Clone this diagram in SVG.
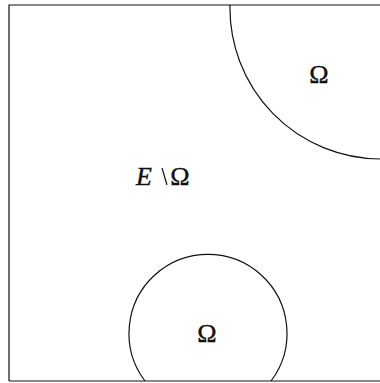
<svg xmlns="http://www.w3.org/2000/svg" width="380" height="383" viewBox="0 0 380 383">
<style>
.ln{fill:none;stroke:#111;stroke-width:1.2}
.t{font-family:"Liberation Serif","Times New Roman",serif;font-size:26px;fill:#111;stroke:#111;stroke-width:0.4}
</style>
<rect width="380" height="383" fill="#fff"/>
<g id="border">
<path class="ln" d="M9,381 V5 H380"/>
<path class="ln" d="M9,381 H380" stroke-width="1.4"/>
</g>
<g id="omega-top">
<path class="ln" d="M230,5 A151,151 0 0 0 380,159"/>
<text class="t" x="319" y="83" text-anchor="middle">Ω</text>
</g>
<g id="omega-bottom">
<path class="ln" d="M145,381 A79,79 0 1 1 271,381"/>
<text class="t" x="207" y="342" text-anchor="middle">Ω</text>
</g>
<g id="complement">
<text class="t" x="136" y="185" font-style="italic">E</text>
<line class="ln" x1="162" y1="168" x2="167" y2="185" stroke-width="1.2"/>
<text class="t" x="180" y="185" text-anchor="middle">Ω</text>
</g>
</svg>
